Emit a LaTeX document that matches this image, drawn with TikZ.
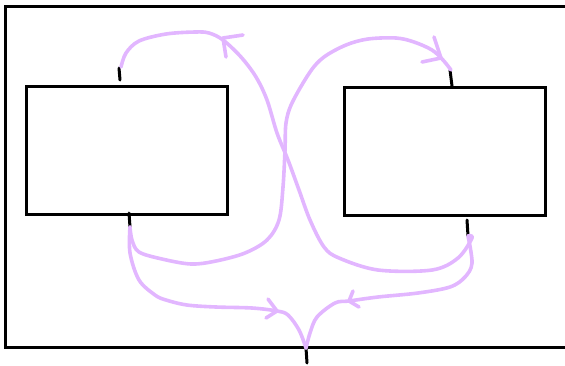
\documentclass[tikz,border=0pt]{standalone}
\usepackage{tikz}

\definecolor{lilac}{RGB}{226,182,255}
\tikzset{
    box/.style={line width=1.5pt},
    tick/.style={line width=1.5pt, line cap=round},
    pen/.style={lilac, line width=1.8pt, line cap=round, line join=round},
}

\begin{document}
\begin{tikzpicture}[x=0.5pt, y=-0.5pt]
            \useasboundingbox (0, 0) rectangle (565, 365);
            \draw[box] (565, 6) -- (5, 6) -- (5, 347) -- (565, 347);
            \draw[box] (26, 86) rectangle (227, 214);
            \draw[box] (344, 87) rectangle (545, 215);
            \coordinate (ltop) at (120, 80);
            \coordinate (lbot) at (130, 227);
            \coordinate (rtop) at (451, 70);
            \coordinate (rbot) at (468, 236);
            \coordinate (out) at (306, 348);
            \draw[tick] (119, 68) -- (120, 80);
            \draw[tick] (129, 213) -- (130, 227);
            \draw[tick] (450, 70) -- (452, 86);
            \draw[tick] (467, 220) -- (468, 236);
            \draw[tick] (306, 348) -- (307, 363);
            \draw[pen] plot[smooth, tension=0.55] coordinates {(rbot) (472, 238) (458, 258) (432, 270) (378, 270) (339, 258) (324, 247) (310, 220) (299, 190) (288, 160) (277, 133) (267, 100) (256, 77) (241, 57) (223, 40) (209, 33) (195, 32) (166, 34) (139, 41) (126, 53) (121, 67)};
            \draw[pen] (243, 35) -- (223, 38) -- (226, 57);
            \draw[pen] plot[smooth, tension=0.55] coordinates {(lbot) (132, 240) (139, 252) (162, 259) (191, 264) (216, 261) (245, 253) (267, 240) (279, 220) (283, 187) (285, 150) (286, 123) (292, 103) (310, 72) (324, 57) (346, 45) (368, 39) (396, 38) (414, 42) (432, 50) (443, 60) (rtop)};
            \draw[pen] (434, 37) -- (441, 58) -- (422, 62);
            \draw[pen] plot[smooth, tension=0.55] coordinates {(lbot) (130, 253) (139, 280) (155, 295) (166, 300) (187, 305) (216, 307) (252, 308) (277, 311) (288, 315) (299, 330) (out)};
            \draw[pen] (268, 299) -- (277, 311) -- (266, 318);
            \draw[pen] plot[smooth, tension=0.55] coordinates {(rbot) (472, 263) (465, 277) (450, 287) (418, 293) (378, 297) (349, 301) (335, 303) (317, 317) (310, 333) (out)};
            \draw[pen] (353, 291) -- (349, 301) -- (359, 307);
    \end{tikzpicture}
\end{document}
